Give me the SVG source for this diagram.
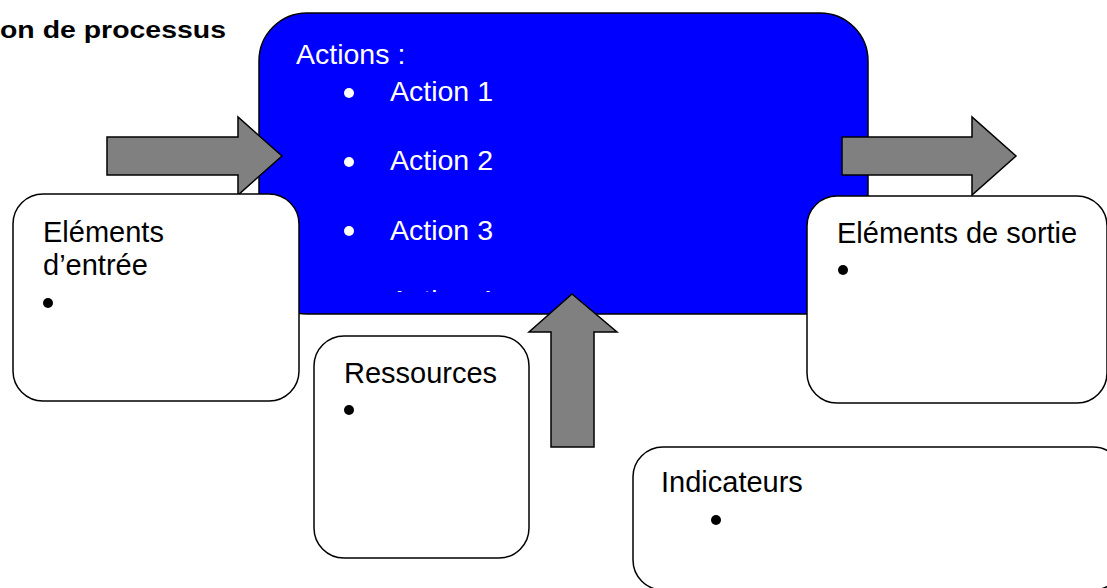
<svg xmlns="http://www.w3.org/2000/svg" width="1107" height="588" viewBox="0 0 1107 588">
  <style>
    .box { fill: #ffffff; stroke: #000000; stroke-width: 1.5; }
    .process { fill: #0000ff; stroke: #000000; stroke-width: 1.5; }
    .arrow { fill: #808080; stroke: #000000; stroke-width: 1.5; stroke-linejoin: miter; }
    .lbl { font-family: "Liberation Sans", Arial, sans-serif; font-size: 29px; fill: #000000; }
    .wlbl { font-family: "Liberation Sans", Arial, sans-serif; font-size: 28.5px; fill: #ffffff; }
    .title { font-family: "Liberation Sans", Arial, sans-serif; font-size: 24px; font-weight: bold; fill: #000000; }
    .dot { fill: #000000; }
    .wdot { fill: #ffffff; }
  </style>
  <defs>
    <clipPath id="actionsClip">
      <rect x="259" y="13" width="609" height="279"/>
    </clipPath>
  </defs>
  <rect width="1107" height="588" fill="#ffffff"/>

  <text class="title" x="0" y="38" textLength="226" lengthAdjust="spacingAndGlyphs">on de processus</text>

  <!-- central process block -->
  <g id="process">
    <rect class="process" x="259" y="13" width="609" height="301" rx="48" ry="48"/>
    <text class="wlbl" x="296" y="64">Actions :</text>
    <g clip-path="url(#actionsClip)">
      <circle class="wdot" cx="349" cy="93" r="5"/>
      <text class="wlbl" x="390" y="101">Action 1</text>
      <circle class="wdot" cx="349" cy="162" r="5"/>
      <text class="wlbl" x="390" y="170">Action 2</text>
      <circle class="wdot" cx="349" cy="231" r="5"/>
      <text class="wlbl" x="390" y="240">Action 3</text>
      <circle class="wdot" cx="349" cy="301" r="5"/>
      <text class="wlbl" x="390" y="310">Action 4</text>
    </g>
  </g>

  <!-- block arrows -->
  <g id="connectors">
    <polygon class="arrow" points="107,137 238,137 238,117 282,156 238,195 238,175 107,175"/>
    <polygon class="arrow" points="842,137 972,137 972,117 1016,156 972,195 972,175 842,175"/>
    <polygon class="arrow" points="551,447 551,332 529,332 572,294 617,332 594,332 594,447"/>
  </g>

  <g id="entree">
    <rect class="box" x="13" y="194" width="286" height="207" rx="30" ry="30"/>
    <text class="lbl" x="43" y="242">Eléments</text>
    <text class="lbl" x="43" y="275">d’entrée</text>
    <circle class="dot" cx="48" cy="303" r="5"/>
  </g>

  <g id="sortie">
    <rect class="box" x="807" y="196" width="300" height="207" rx="30" ry="30"/>
    <text class="lbl" x="837" y="243">Eléments de sortie</text>
    <circle class="dot" cx="843" cy="270" r="5"/>
  </g>

  <g id="ressources">
    <rect class="box" x="314" y="336" width="215" height="222" rx="30" ry="30"/>
    <text class="lbl" x="344" y="383">Ressources</text>
    <circle class="dot" cx="349" cy="410" r="5"/>
  </g>

  <g id="indicateurs">
    <rect class="box" x="633" y="447" width="490" height="143" rx="30" ry="30"/>
    <text class="lbl" x="661" y="492">Indicateurs</text>
    <circle class="dot" cx="716" cy="520" r="5"/>
  </g>
</svg>
